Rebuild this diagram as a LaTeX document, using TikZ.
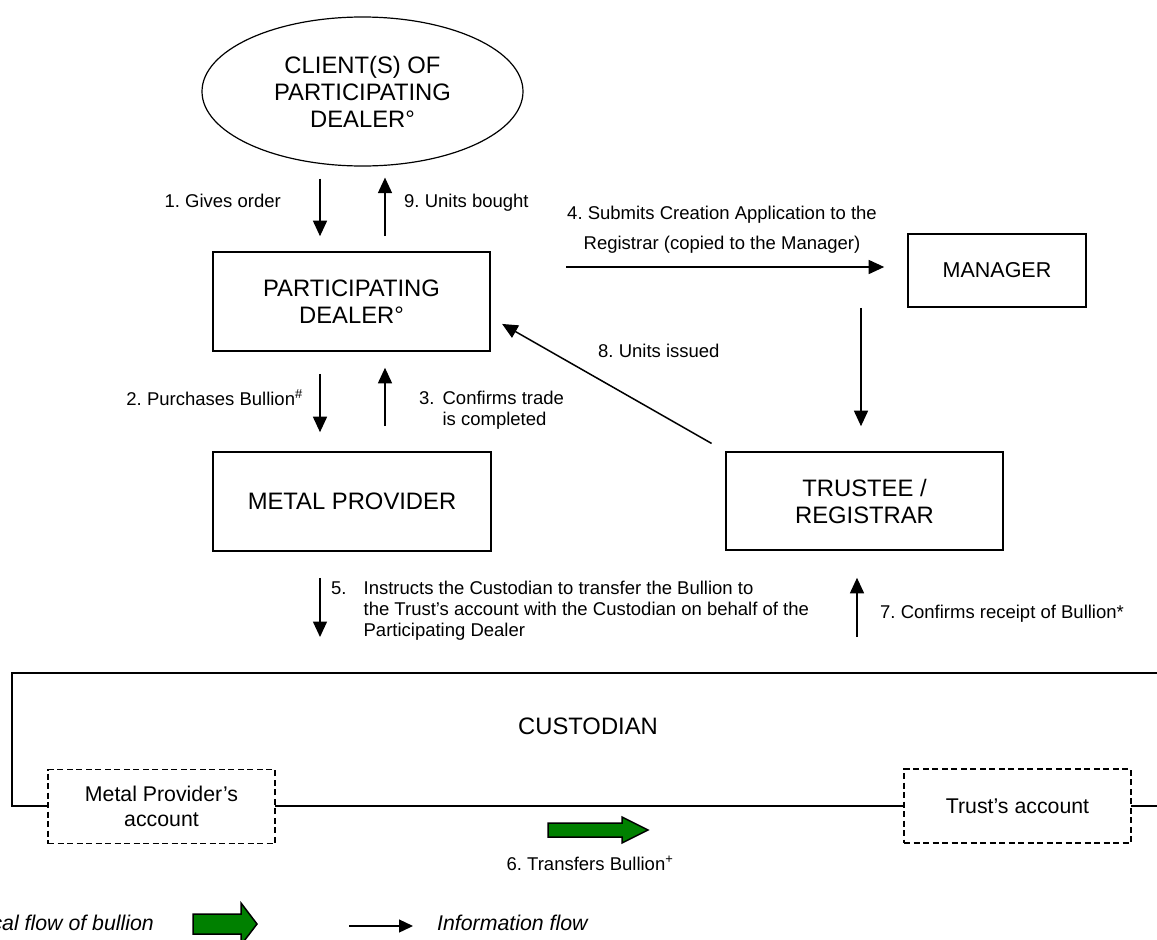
\documentclass[tikz,border=0pt]{standalone}
\usepackage{fontspec}
\setmainfont{Liberation Sans}
\usetikzlibrary{shapes.geometric,arrows.meta}
\definecolor{bulliongreen}{RGB}{0,128,0}
\frenchspacing

\begin{document}
\begin{tikzpicture}[x=1pt,y=-1pt,
  party/.style={draw,line width=1.6pt,inner sep=0pt,align=center,font=\fontsize{23.8}{27}\selectfont},
  account/.style={draw,dash pattern=on 6pt off 3.5pt,line width=1.5pt,fill=white,inner sep=0pt,align=center,minimum width=227pt,minimum height=74pt,font=\fontsize{21.3}{25}\selectfont},
  info/.style={line width=1.5pt,-{Triangle[length=15.5pt,width=14pt]}},
  lbl/.style={inner sep=0pt,font=\fontsize{18.5}{21}\selectfont},
  legend/.style={inner sep=0pt,font=\fontsize{21.3}{25}\selectfont\itshape}]
\useasboundingbox (0,0) rectangle (1157,940);
\node[party,ellipse,line width=1.2pt,minimum width=321pt,minimum height=149pt] (client) at (362.5,91.5) {CLIENT(S) OF\\PARTICIPATING\\DEALER°};
\node[party,minimum width=277pt,minimum height=99pt] (dealer) at (351.5,301.5) {PARTICIPATING\\DEALER°};
\node[party,minimum width=278pt,minimum height=99pt] (provider) at (352,501.5) {METAL PROVIDER};
\node[party,minimum width=178pt,minimum height=73pt,font=\fontsize{21.5}{25}\selectfont] (manager) at (997,270.5) {MANAGER};
\node[party,minimum width=277pt,minimum height=98pt] (trustee) at (864.5,501) {TRUSTEE /\\REGISTRAR};
\coordinate (custTL) at (12,673);
\coordinate (custBL) at (12,806);
\draw[line width=1.8pt] (1157,673) -- (custTL) -- (custBL) -- (1157,806);
\node[party,draw=none] (custodian) at (588,726) {CUSTODIAN};
\node[account] (mpacc) at (161.5,806.5) {Metal Provider’s\\account};
\node[account] (tracc) at (1017.5,806) {Trust’s account};
\draw[info,shorten <=12pt,shorten >=15pt] ([xshift=-42.5pt]client.south) -- ([xshift=-31.5pt]dealer.north);
\node[lbl,anchor=base east] (order) at (281,207) {1. Gives order};
\draw[info,shorten <=15pt,shorten >=11pt] ([xshift=33.5pt]dealer.north) -- ([xshift=22.5pt]client.south);
\node[lbl,anchor=base west] (bought) at (404,207) {9. Units bought};
\draw[info,shorten <=22pt,shorten >=19pt] ([xshift=-31.5pt]dealer.south) -- ([xshift=-32pt]provider.north);
\node[lbl,anchor=base east] (purchase) at (303,405) {2. Purchases Bullion\textsuperscript{\#}};
\draw[info,shorten <=25pt,shorten >=16pt] ([xshift=33pt]provider.north) -- ([xshift=33.5pt]dealer.south);
\node[lbl,anchor=base west] (confirm) at (419,404) {\begin{tabular}[t]{@{}l@{\hspace{8pt}}l@{}}3. & Confirms trade\\ & is completed\end{tabular}};
\coordinate (submit) at (566,267);
\draw[info,shorten >=23pt] (submit) -- (submit -| manager.west);
\node[lbl,align=center,font=\fontsize{18.5}{30}\selectfont,anchor=base] (apply) at (722,249) {4. Submits Creation Application to the\\Registrar (copied to the Manager)};
\draw[info,shorten >=25pt] ([xshift=-136pt]manager.south) -- ([xshift=-3.5pt]trustee.north);
\coordinate (instr) at ([xshift=-32pt]provider.south);
\draw[info,shorten <=26pt,shorten >=36pt] (instr) -- (instr |- custTL);
\node[lbl,anchor=base west] (instruct) at (331,594) {\begin{tabular}[t]{@{}l@{\hspace{17pt}}l@{}}5. & Instructs the Custodian to transfer the Bullion to\\ & the Trust’s account with the Custodian on behalf of the\\ & Participating Dealer\end{tabular}};
\draw[line width=1.5pt,fill=bulliongreen] (548,823) -- (622,823) -- (622,817) -- (648,830) -- (622,843) -- (622,837) -- (548,837) -- cycle;
\node[lbl,anchor=base] (transfer) at (590,870) {6. Transfers Bullion\textsuperscript{+}};
\coordinate (receipt) at ([xshift=-7.5pt]trustee.south);
\draw[info,shorten <=36pt,shorten >=27pt] (receipt |- custTL) -- (receipt);
\node[lbl,anchor=base west] (receive) at (880,618) {7. Confirms receipt of Bullion*};
\draw[info,shorten <=15.7pt,shorten >=13pt] (trustee.north west) -- ([yshift=-16pt]dealer.east);
\node[lbl,anchor=base west] (issued) at (598,357) {8. Units issued};
\draw[line width=1.5pt,fill=bulliongreen] (193,914) -- (241,914) -- (241,903) -- (257,924) -- (241,945) -- (241,934) -- (193,934) -- cycle;
\node[legend,anchor=base east] (keybullion) at (154,930) {Physical flow of bullion};
\coordinate (keyinfo) at (349,926);
\draw[line width=1.3pt,-{Triangle[length=14pt,width=13pt]}] (keyinfo) -- ++(64,0);
\node[legend,anchor=base west] (keytext) at (437,930) {Information flow};
\end{tikzpicture}
\end{document}
